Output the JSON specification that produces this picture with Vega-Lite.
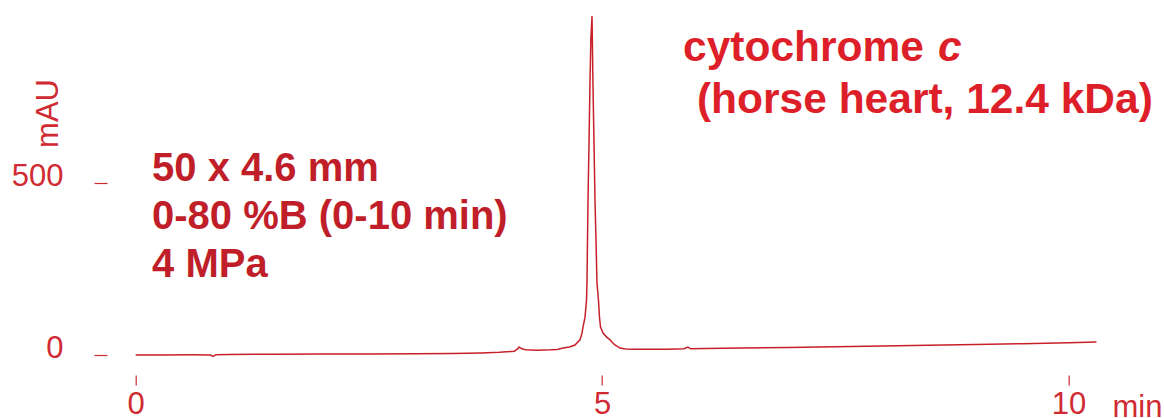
{
  "$schema": "https://vega.github.io/schema/vega-lite/v6.json",
  "width": 970.1,
  "height": 354.3,
  "autosize": {"type": "none"},
  "padding": {"left": 135.7, "top": 11, "right": 58.2, "bottom": 52.7},
  "background": "white",
  "config": {"view": {"stroke": null}, "font": "Liberation Sans"},
  "datasets": {
    "trace": [
      {"t": 0, "v": 0}, {"t": 0.3, "v": 0}, {"t": 0.6, "v": 0.5}, {"t": 0.8, "v": 0},
      {"t": 0.83, "v": -4}, {"t": 0.86, "v": 1}, {"t": 1.0, "v": 1.5}, {"t": 1.5, "v": 2},
      {"t": 2.0, "v": 2.5}, {"t": 2.5, "v": 3}, {"t": 3.0, "v": 3.5}, {"t": 3.4, "v": 4.5},
      {"t": 3.7, "v": 6}, {"t": 3.9, "v": 8}, {"t": 4.06, "v": 11}, {"t": 4.09, "v": 17},
      {"t": 4.11, "v": 23}, {"t": 4.14, "v": 18}, {"t": 4.18, "v": 15}, {"t": 4.3, "v": 14},
      {"t": 4.45, "v": 15}, {"t": 4.52, "v": 16}, {"t": 4.581, "v": 20}, {"t": 4.65, "v": 23},
      {"t": 4.709, "v": 29}, {"t": 4.763, "v": 44}, {"t": 4.785, "v": 64}, {"t": 4.795, "v": 81},
      {"t": 4.817, "v": 110}, {"t": 4.833, "v": 160}, {"t": 4.838, "v": 210}, {"t": 4.849, "v": 450},
      {"t": 4.86, "v": 620}, {"t": 4.87, "v": 790}, {"t": 4.88, "v": 920}, {"t": 4.892, "v": 985},
      {"t": 4.902, "v": 790}, {"t": 4.913, "v": 620}, {"t": 4.924, "v": 450}, {"t": 4.935, "v": 330},
      {"t": 4.945, "v": 210}, {"t": 4.961, "v": 160}, {"t": 4.972, "v": 110}, {"t": 4.983, "v": 81},
      {"t": 5.01, "v": 64}, {"t": 5.05, "v": 52}, {"t": 5.085, "v": 44}, {"t": 5.11, "v": 36},
      {"t": 5.138, "v": 29}, {"t": 5.192, "v": 20}, {"t": 5.25, "v": 17.5}, {"t": 5.35, "v": 16.5},
      {"t": 5.5, "v": 16.5}, {"t": 5.7, "v": 17}, {"t": 5.88, "v": 18}, {"t": 5.92, "v": 23},
      {"t": 5.95, "v": 18}, {"t": 6.1, "v": 18.5}, {"t": 6.5, "v": 20}, {"t": 7.0, "v": 22},
      {"t": 7.5, "v": 24}, {"t": 8.0, "v": 26}, {"t": 8.5, "v": 28}, {"t": 9.0, "v": 30.5},
      {"t": 9.5, "v": 33}, {"t": 10.0, "v": 35.5}, {"t": 10.3, "v": 37.5}
    ],
    "cond": [
      {"t": 0.175, "v": 506, "label": "50 x 4.6 mm\n0-80 %B (0-10 min)\n4 MPa"}
    ],
    "name1": [
      {"t": 5.868, "v": 855, "label": "cytochrome"}
    ],
    "name1c": [
      {"t": 8.6, "v": 855, "label": "c"}
    ],
    "name2": [
      {"t": 6.017, "v": 704, "label": "(horse heart, 12.4 kDa)"}
    ]
  },
  "layer": [
    {
      "data": {"name": "trace"},
      "mark": {"type": "line", "color": "#c8202a", "strokeWidth": 1.5},
      "encoding": {
        "x": {
          "field": "t", "type": "quantitative",
          "scale": {"domain": [0, 10.4], "nice": false, "zero": false},
          "axis": {
            "values": [0, 5, 10], "format": "d", "title": "min", "domain": false, "grid": false,
            "offset": 9.7, "tickSize": 10, "tickWidth": 1.2, "tickColor": "#d02a33",
            "labelFontSize": 31, "labelColor": "#d02a33", "labelPadding": 4,
            "labelFlush": false, "labelOverlap": false,
            "titleFontSize": 31, "titleFontWeight": "normal", "titleColor": "#d02a33",
            "titleX": 976.3, "titleY": 41, "titleAlign": "left", "titleBaseline": "alphabetic", "titleAnchor": null
          }
        },
        "y": {
          "field": "v", "type": "quantitative",
          "scale": {"domain": [-30, 1000], "nice": false, "zero": false},
          "axis": {
            "values": [0, 500], "format": "d", "title": "mAU", "domain": false, "grid": false,
            "offset": 28.7, "tickSize": 13, "tickWidth": 1.2, "tickColor": "#d02a33",
            "labelFontSize": 31, "labelColor": "#d02a33", "labelPadding": 31,
            "labelBaseline": "alphabetic", "labelOffset": 3, "labelOverlap": false,
            "titleFontSize": 31, "titleFontWeight": "normal", "titleColor": "#d02a33",
            "titleX": -50, "titleY": 102, "titleAngle": -90, "titleAlign": "center", "titleBaseline": "alphabetic", "titleAnchor": null
          }
        }
      }
    },
    {
      "data": {"name": "cond"},
      "mark": {"type": "text", "align": "left", "baseline": "alphabetic", "fontSize": 40, "fontWeight": "bold", "lineBreak": "\n", "lineHeight": 48, "color": "#c01f2a"},
      "encoding": {"x": {"field": "t", "type": "quantitative"}, "y": {"field": "v", "type": "quantitative"}, "text": {"field": "label"}}
    },
    {
      "data": {"name": "name1"},
      "mark": {"type": "text", "align": "left", "baseline": "alphabetic", "fontSize": 42.5, "fontWeight": "bold", "color": "#dd1f2a"},
      "encoding": {"x": {"field": "t", "type": "quantitative"}, "y": {"field": "v", "type": "quantitative"}, "text": {"field": "label"}}
    },
    {
      "data": {"name": "name1c"},
      "mark": {"type": "text", "align": "left", "baseline": "alphabetic", "fontSize": 42.5, "fontWeight": "bold", "fontStyle": "italic", "color": "#dd1f2a"},
      "encoding": {"x": {"field": "t", "type": "quantitative"}, "y": {"field": "v", "type": "quantitative"}, "text": {"field": "label"}}
    },
    {
      "data": {"name": "name2"},
      "mark": {"type": "text", "align": "left", "baseline": "alphabetic", "fontSize": 42.5, "fontWeight": "bold", "color": "#dd1f2a"},
      "encoding": {"x": {"field": "t", "type": "quantitative"}, "y": {"field": "v", "type": "quantitative"}, "text": {"field": "label"}}
    }
  ]
}
